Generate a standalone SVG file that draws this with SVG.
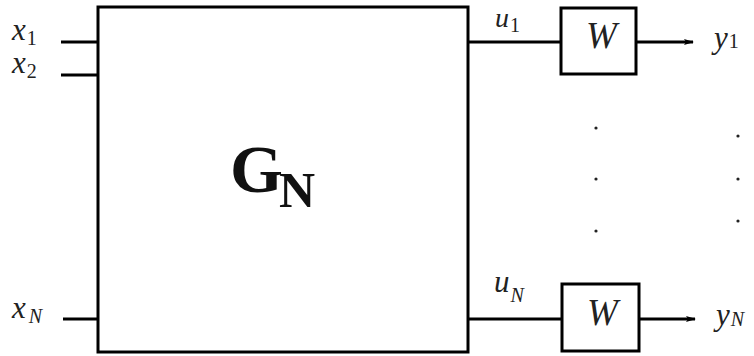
<svg xmlns="http://www.w3.org/2000/svg" width="754" height="356" viewBox="0 0 754 356">
<style>
.box{fill:#fff;stroke:#000;stroke-width:3}
.ln{fill:none;stroke:#000;stroke-width:3}
.m{font-family:"Liberation Serif","DejaVu Serif",serif;font-style:italic;fill:#222}
.b{font-size:31px}
.s{font-size:20px;font-style:normal}
.si{font-size:20px}
.dot{fill:#222}
</style>
<defs>
<marker id="ah" markerWidth="10" markerHeight="8" refX="9" refY="4" orient="auto" markerUnits="userSpaceOnUse">
<path d="M0,1 L10,4 L0,7 L2,4 Z" fill="#000"/>
</marker>
</defs>
<g id="connectors">
<line class="ln" x1="61" y1="42" x2="98" y2="42"/>
<line class="ln" x1="61" y1="75" x2="98" y2="75"/>
<line class="ln" x1="63" y1="319" x2="98" y2="319"/>
<line class="ln" x1="468" y1="42" x2="561" y2="42"/>
<line class="ln" x1="468" y1="319" x2="562" y2="319"/>
<line class="ln" x1="636" y1="42" x2="693" y2="42" marker-end="url(#ah)"/>
<line class="ln" x1="639" y1="319" x2="695" y2="319" marker-end="url(#ah)"/>
</g>
<g id="GN">
<rect class="box" x="98" y="7" width="370" height="345"/>
<text x="230" y="192" font-family="Liberation Serif,serif" font-weight="bold" font-size="68" fill="#111">G<tspan x="279" y="207" font-size="50">N</tspan></text>
</g>
<g id="W1">
<rect class="box" x="561" y="8" width="75" height="66"/>
<text class="m" x="586" y="48" font-size="37">W</text>
</g>
<g id="WN">
<rect class="box" x="562" y="284" width="77" height="67"/>
<text class="m" x="587" y="325" font-size="37">W</text>
</g>
<g id="labels">
<text class="m b" x="12" y="40">x<tspan class="s" dx="1" dy="5">1</tspan></text>
<text class="m b" x="12" y="73">x<tspan class="s" dx="1" dy="5">2</tspan></text>
<text class="m b" x="12" y="318">x<tspan class="si" dx="3" dy="5">N</tspan></text>
<text class="m" font-size="28" x="495" y="27">u<tspan class="s" dx="1" dy="5">1</tspan></text>
<text class="m b" x="494" y="292">u<tspan class="si" dx="1" dy="10">N</tspan></text>
<text class="m b" x="714" y="48">y<tspan class="s" dx="1" dy="0">1</tspan></text>
<text class="m b" x="716" y="325">y<tspan class="si" dx="1" dy="1">N</tspan></text>
</g>
<g id="dots">
<circle class="dot" cx="596" cy="128" r="1.6"/>
<circle class="dot" cx="596" cy="179" r="1.6"/>
<circle class="dot" cx="596" cy="231" r="1.6"/>
<circle class="dot" cx="738" cy="136" r="1.6"/>
<circle class="dot" cx="738" cy="179" r="1.6"/>
<circle class="dot" cx="738" cy="221" r="1.6"/>
</g>
</svg>
